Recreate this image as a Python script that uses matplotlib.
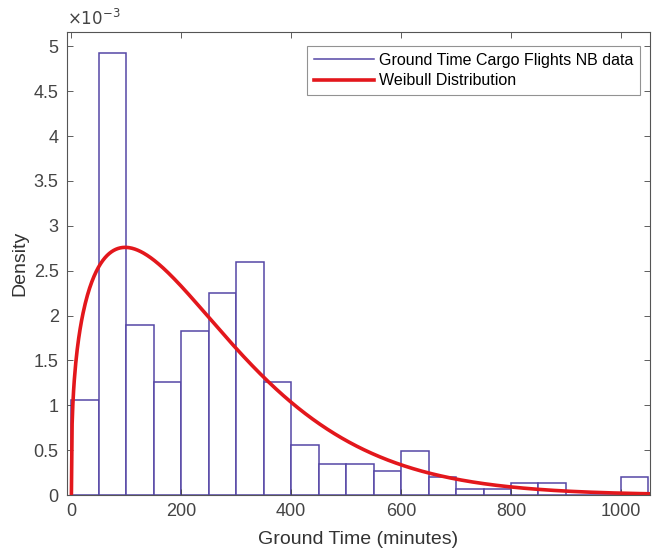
import numpy as np
import matplotlib
matplotlib.use("Agg")
import matplotlib.pyplot as plt
from matplotlib.lines import Line2D

# histogram bins (minutes) and densities (x 1e-3)
bin_edges = [0, 50, 100, 150, 200, 250, 300, 350, 400, 450, 500,
             550, 600, 650, 700, 750, 800, 850, 900, 950, 1000, 1050]
density = [1.06, 4.93, 1.90, 1.26, 1.83, 2.25, 2.60, 1.26, 0.56, 0.34, 0.34,
           0.27, 0.49, 0.20, 0.07, 0.07, 0.13, 0.13, 0.0, 0.0, 0.20]

# fitted Weibull parameters
wb_shape = 1.35
wb_scale = 266.0

plt.rcParams['font.family'] = ['Liberation Sans', 'DejaVu Sans']

fig = plt.figure(figsize=(6.53, 5.53), dpi=100)
ax = fig.add_axes([67/653, 58/553, 583/653, 463/553])

edge_col = '#5546a6'
curve_col = '#e3171c'

widths = np.diff(bin_edges)
ax.bar(bin_edges[:-1], np.array(density) * 1e-3, width=widths, align='edge',
       facecolor='white', edgecolor=edge_col, linewidth=1.1)

x = np.linspace(0, 1060, 800)
k, lam = wb_shape, wb_scale
pdf = k / lam * (x / lam) ** (k - 1) * np.exp(-(x / lam) ** k)
ax.plot(x, pdf, color=curve_col, linewidth=2.6)

ax.set_xlim(-8, 1053)
ax.set_ylim(0, 5.16e-3)
ax.set_xticks([0, 200, 400, 600, 800, 1000])
ax.set_yticks(np.arange(0, 5.01e-3, 0.5e-3))
ax.set_yticklabels(['0', '0.5', '1', '1.5', '2', '2.5', '3', '3.5', '4', '4.5', '5'])
ax.text(0.0, 1.008, r'$\times10^{-3}$', transform=ax.transAxes, fontsize=12,
        color='#444444', va='bottom', ha='left')

ax.tick_params(direction='in', top=True, right=True, labelsize=13,
               colors='#444444', length=4, width=0.6, pad=6)
for s in ax.spines.values():
    s.set_color('#555555')
    s.set_linewidth(0.8)

ax.set_xlabel('Ground Time (minutes)', fontsize=14, color='#333333', labelpad=8)
ax.set_ylabel('Density', fontsize=14, color='#333333', labelpad=4)

handles = [Line2D([], [], color=edge_col, linewidth=1.1),
           Line2D([], [], color=curve_col, linewidth=2.6)]
leg = ax.legend(handles, ['Ground Time Cargo Flights NB data', 'Weibull Distribution'],
                loc='upper right', bbox_to_anchor=(0.988, 0.976), fontsize=11.5,
                frameon=True, fancybox=False, edgecolor='#777777',
                handlelength=3.8, borderpad=0.4, labelspacing=0.35,
                handletextpad=0.3, borderaxespad=0.2)
leg.get_frame().set_linewidth(0.8)

fig.savefig('out.png', dpi=100)
